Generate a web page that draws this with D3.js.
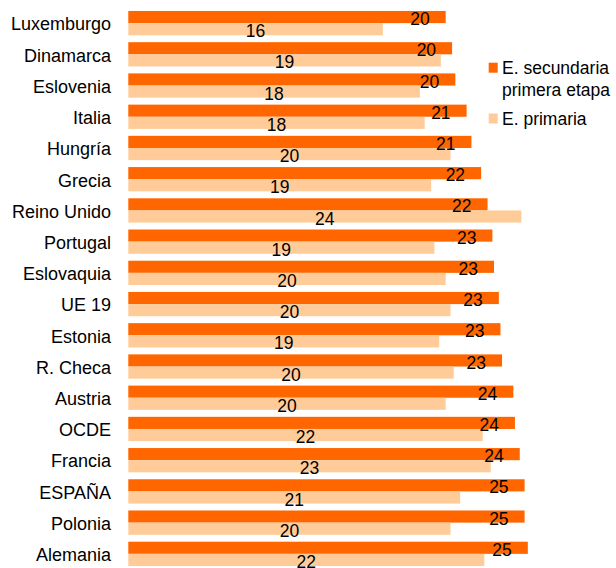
<!DOCTYPE html>
<html>
<head>
<meta charset="utf-8">
<script src="https://cdn.jsdelivr.net/npm/d3@7"></script>
<style>
  html, body { margin: 0; padding: 0; background: #fff; }
  svg { display: block; }
  text { font-family: "Liberation Sans", Arial, sans-serif; fill: #000; }
</style>
</head>
<body>
<svg id="chart" width="616" height="568"></svg>
<script>
const categories = ["Luxemburgo","Dinamarca","Eslovenia","Italia","Hungría","Grecia","Reino Unido","Portugal","Eslovaquia","UE 19","Estonia","R. Checa","Austria","OCDE","Francia","ESPAÑA","Polonia","Alemania"];
const secundaria = [19.7,20.1,20.3,21.0,21.3,21.9,22.3,22.6,22.7,23.0,23.1,23.2,23.9,24.0,24.3,24.6,24.6,24.8];
const primaria   = [15.8,19.4,18.1,18.4,20.0,18.8,24.4,19.0,19.7,20.0,19.3,20.2,19.7,22.0,22.5,20.6,20.0,22.1];
const seriesNames = ["E. secundaria primera etapa","E. primaria"];
const seriesColors = ["#FF6600","#FFCC99"];

const svg = d3.select("#chart");
const x0 = 128.3, pxPerUnit = 16.11;
const x = d3.scaleLinear().domain([0, 25]).range([x0, x0 + 25 * pxPerUnit]);
const y = d3.scaleBand().domain(categories).range([7.5, 7.5 + 18 * 31.22]).paddingInner(0.222).paddingOuter(0.111);
const ySub = d3.scaleBand().domain([0, 1]).range([0, y.bandwidth()]);

const data = categories.map((c, i) => ({ c, vals: [secundaria[i], primaria[i]] }));

const g = svg.selectAll("g.cat").data(data).enter().append("g")
  .attr("class", "cat")
  .attr("transform", d => `translate(0,${y(d.c)})`);

g.selectAll("rect").data(d => d.vals.map((v, k) => ({ v, k }))).enter().append("rect")
  .attr("x", x(0))
  .attr("y", d => ySub(d.k))
  .attr("width", d => x(d.v) - x(0))
  .attr("height", ySub.bandwidth())
  .attr("fill", d => seriesColors[d.k]);

// value labels: secundaria inside end, primaria centered
g.selectAll("text.val").data(d => d.vals.map((v, k) => ({ v, k }))).enter().append("text")
  .attr("class", "val")
  .attr("x", d => d.k === 0 ? x(d.v) - 16 : (x(0) + x(d.v)) / 2)
  .attr("y", d => ySub(d.k) + ySub.bandwidth() + 2)
  .attr("text-anchor", d => d.k === 0 ? "end" : "middle")
  .attr("font-size", "17.5px")
  .text(d => Math.round(d.v));

// category labels
g.append("text")
  .attr("x", 111)
  .attr("y", y.bandwidth() / 2 + 7.3)
  .attr("text-anchor", "end")
  .attr("font-size", "18px")
  .text(d => d.c);

// legend
const legend = svg.append("g");
const legendItems = [
  { k: 0, lines: ["E. secundaria", "primera etapa"], y: 62.7 },
  { k: 1, lines: ["E. primaria"], y: 113.5 }
];
legendItems.forEach(it => {
  legend.append("rect").attr("x", 488.7).attr("y", it.y).attr("width", 9).attr("height", 10)
    .attr("fill", seriesColors[it.k]);
  it.lines.forEach((ln, j) => {
    legend.append("text").attr("x", 502).attr("y", it.y + 11.5 + j * 21.5)
      .attr("font-size", "17.5px").text(ln);
  });
});
</script>
</body>
</html>
